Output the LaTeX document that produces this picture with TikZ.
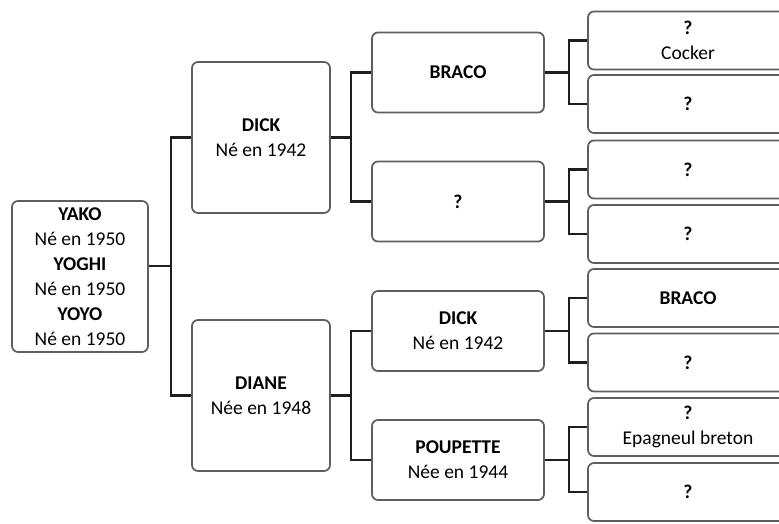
\documentclass[tikz,border=0pt]{standalone}
\usepackage{fontspec}
\setmainfont{Carlito}
\definecolor{boxgray}{HTML}{5E5E5E}
\definecolor{linkcol}{HTML}{1E1E1E}
\begin{document}
\begin{tikzpicture}[x=1pt,y=-1pt,
  box/.style={draw=boxgray, line width=1.7pt, rounded corners=6pt, fill=white,
    align=center, inner sep=0pt, text=black, font=\fontsize{19.5}{25}\selectfont},
  c1box/.style={box, minimum width=136pt, minimum height=151pt},
  c2box/.style={box, minimum width=138pt, minimum height=151pt},
  c3box/.style={box, minimum width=172pt, minimum height=80pt},
  c4box/.style={box, minimum width=200pt, minimum height=58pt},
  link/.style={draw=linkcol, line width=2.2pt}
]
\useasboundingbox (0,0) rectangle (779,523);
\fill[white] (0,0) rectangle (779,523);
\clip (0,0) rectangle (779,523);

% column 1
\node[c1box] (yako) at (80,276.5) {\textbf{YAKO}\\Né en 1950\\\textbf{YOGHI}\\Né en 1950\\\textbf{YOYO}\\Né en 1950};

% column 2
\node[c2box] (dick) at (261,137.5) {\textbf{DICK}\\Né en 1942};
\node[c2box] (diane) at (261,395.5) {\textbf{DIANE}\\Née en 1948};

% column 3
\node[c3box] (braco) at (458,72.5) {\textbf{BRACO}};
\node[c3box] (unk) at (458,201.5) {\textbf{?}};
\node[c3box] (dickb) at (458,331) {\textbf{DICK}\\Né en 1942};
\node[c3box] (poup) at (458,460) {\textbf{POUPETTE}\\Née en 1944};

% column 4
\node[c4box] (g1) at (688,40.5) {\textbf{?}\\Cocker};
\node[c4box] (g2) at (688,104) {\textbf{?}};
\node[c4box] (g3) at (688,169.5) {\textbf{?}};
\node[c4box] (g4) at (688,234) {\textbf{?}};
\node[c4box] (g5) at (688,298) {\textbf{BRACO}};
\node[c4box] (g6) at (688,362.5) {\textbf{?}};
\node[c4box] (g7) at (688,427) {\textbf{?}\\Epagneul breton};
\node[c4box] (g8) at (688,492) {\textbf{?}};

% junctions
\coordinate (j0) at (171,266);
\coordinate (j1) at (351,137.5);
\coordinate (j2) at (351,395.5);
\coordinate (j3) at (569,72.5);
\coordinate (j4) at (569,201.5);
\coordinate (j5) at (569,331);
\coordinate (j6) at (569,460);

% connectors
\draw[link] (yako.east |- j0) -- (j0);
\draw[link] (dick.west) -| (j0) |- (diane.west);

\draw[link] (dick.east) -- (j1);
\draw[link] (braco.west) -| (j1) |- (unk.west);
\draw[link] (diane.east) -- (j2);
\draw[link] (dickb.west) -| (j2) |- (poup.west);

\draw[link] (braco.east) -- (j3);
\draw[link] (g1.west) -| (j3) |- (g2.west);
\draw[link] (unk.east) -- (j4);
\draw[link] (g3.west) -| (j4) |- (g4.west);
\draw[link] (dickb.east) -- (j5);
\draw[link] (g5.west) -| (j5) |- (g6.west);
\draw[link] (poup.east) -- (j6);
\draw[link] (g7.west) -| (j6) |- (g8.west);
\end{tikzpicture}
\end{document}
